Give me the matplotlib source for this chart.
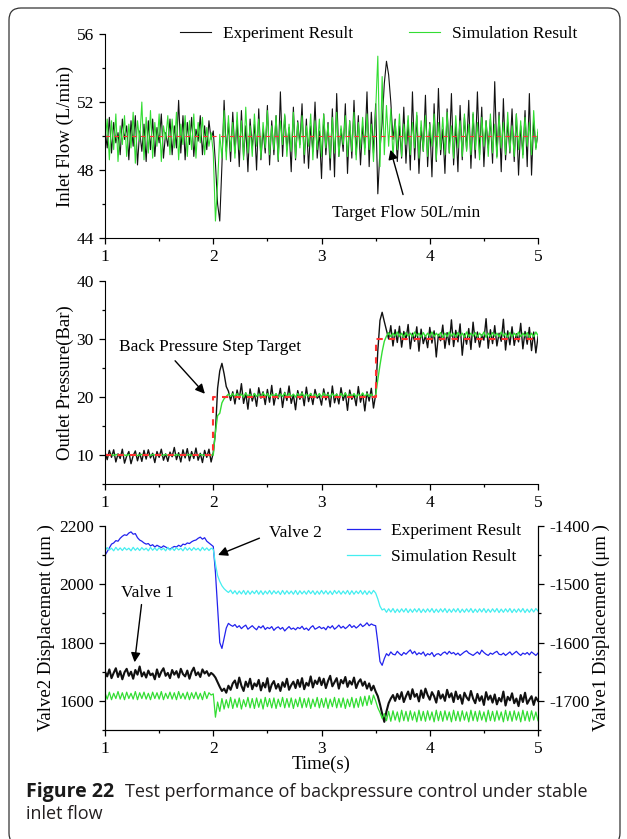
import numpy as np
import matplotlib
matplotlib.use("Agg")
import matplotlib.pyplot as plt
from matplotlib.patches import FancyBboxPatch
from matplotlib.transforms import IdentityTransform

plt.rcParams['font.family'] = ['Liberation Serif', 'DejaVu Serif']
plt.rcParams['axes.unicode_minus'] = False

# sampling: 1.00 s .. 5.00 s every 0.02 s
t0 = 1.0
dt = 0.02

# inlet flow (L/min)
flow_exp = [
    50.4, 49.3, 51.1, 49.0, 50.8, 49.6, 50.2, 48.9, 51.0, 49.8,
    50.6, 48.6, 50.9, 49.4, 51.2, 48.3, 50.3, 49.1, 50.7, 48.5,
    50.9, 49.2, 51.0, 48.8, 50.5, 49.6, 51.3, 48.7, 50.2, 49.4,
    51.0, 48.9, 50.6, 49.3, 52.1, 49.0, 51.2, 48.6, 50.8, 49.5,
    51.1, 48.8, 50.4, 49.7, 51.2, 48.9, 50.6, 49.2, 50.9, 49.8,
    50.3, 48.4, 46.0, 45.0, 48.3, 52.1, 49.1, 50.8, 48.5, 51.4,
    49.0, 50.9, 48.2, 51.5, 48.8, 50.6, 47.9, 51.0, 49.3, 50.7,
    48.0, 51.6, 48.6, 50.4, 49.0, 51.8, 48.3, 50.9, 48.9, 51.2,
    48.5, 52.6, 48.8, 51.2, 49.2, 50.5, 47.9, 51.7, 48.6, 50.9,
    49.5, 51.9, 48.4, 51.0, 48.1, 50.6, 49.1, 52.0, 48.7, 50.3,
    47.5, 51.3, 48.9, 50.8, 48.0, 51.6, 47.6, 52.5, 48.8, 50.4,
    49.1, 51.9, 47.8, 50.9, 48.7, 52.1, 48.9, 51.2, 48.3, 50.6,
    49.3, 52.6, 48.2, 51.4, 49.0, 51.9, 46.6, 49.2, 50.8, 53.1,
    54.4, 53.6, 52.0, 49.8, 51.0, 48.5, 50.6, 48.7, 51.7, 48.4,
    50.9, 48.0, 52.6, 48.6, 51.2, 47.8, 50.5, 49.1, 52.4, 48.2,
    50.8, 47.6, 51.9, 48.5, 52.8, 48.9, 50.4, 47.8, 51.6, 49.0,
    52.5, 48.3, 50.7, 47.9, 51.8, 48.6, 51.1, 49.2, 52.1, 48.1,
    51.3, 48.7, 52.6, 48.9, 51.7, 48.2, 50.9, 49.3, 51.0, 48.4,
    53.2, 48.8, 51.4, 47.9, 52.2, 48.6, 50.8, 49.0, 51.6, 48.5,
    51.3, 47.7, 50.6, 48.9, 51.5, 48.2, 52.5, 47.7, 50.9, 49.3,
    50.2,
]
flow_sim = [
    49.6, 51.0, 48.6, 50.9, 49.2, 51.3, 48.5, 50.6, 49.5, 51.2,
    48.8, 50.7, 49.3, 51.4, 48.4, 50.9, 49.7, 52.0, 48.6, 51.1,
    49.0, 51.5, 48.7, 50.8, 49.4, 51.3, 48.5, 50.6, 49.8, 51.2,
    48.9, 51.0, 49.3, 51.4, 48.6, 50.7, 49.5, 51.2, 48.8, 50.9,
    49.2, 51.3, 48.7, 50.8, 49.6, 51.1, 48.9, 50.5, 49.4, 50.2,
    49.0, 45.0, 47.2, 50.1, 48.7, 51.5, 48.6, 51.2, 49.1, 50.8,
    48.7, 51.4, 49.2, 50.9, 48.6, 51.7, 49.0, 50.6, 48.8, 51.3,
    49.4, 51.0, 48.7, 50.8, 49.3, 51.5, 48.9, 50.6, 49.2, 51.2,
    48.6, 50.9, 49.5, 51.3, 48.8, 50.7, 49.1, 51.4, 48.7, 50.8,
    49.3, 51.2, 48.9, 50.6, 49.4, 51.3, 48.6, 50.9, 49.2, 51.0,
    48.8, 51.3, 49.3, 50.7, 48.7, 51.1, 49.0, 51.4, 48.8, 50.6,
    49.5, 51.2, 48.8, 50.9, 49.1, 51.4, 48.6, 50.8, 49.3, 51.1,
    48.9, 51.3, 49.2, 50.7, 48.5, 51.5, 54.7, 48.2, 53.5, 48.9,
    51.8, 49.4, 51.6, 48.7, 50.9, 49.2, 51.3, 48.8, 50.7, 49.5,
    51.2, 48.9, 50.8, 49.3, 51.4, 48.7, 50.9, 49.1, 51.2, 48.8,
    50.7, 49.4, 51.3, 48.6, 50.8, 49.2, 51.1, 48.9, 51.4, 49.0,
    50.6, 48.7, 51.2, 49.3, 50.9, 48.8, 51.3, 49.1, 50.7, 48.9,
    51.4, 49.2, 50.8, 48.6, 51.1, 49.4, 50.9, 48.8, 51.3, 49.0,
    50.7, 48.7, 51.2, 49.3, 50.8, 48.9, 51.4, 49.1, 50.6, 48.8,
    51.3, 49.2, 50.9, 48.7, 51.1, 49.4, 50.8, 48.9, 51.5, 49.2,
    50.4,
]
target_flow_t = [1.0, 5.0]
target_flow = [50.0, 50.0]

# outlet pressure (bar)
pres_exp = [
    10.5, 9.2, 10.8, 9.6, 10.9, 8.8, 10.2, 9.4, 11.0, 8.6,
    9.8, 10.6, 8.5, 9.9, 10.7, 9.0, 10.4, 8.9, 10.8, 9.3,
    10.9, 9.5, 10.3, 8.7, 10.6, 9.6, 11.0, 9.1, 10.2, 8.9,
    10.5, 9.7, 11.3, 9.2, 10.4, 8.8, 10.9, 9.5, 11.1, 9.0,
    10.6, 9.4, 11.2, 9.1, 10.3, 8.7, 10.8, 9.6, 11.0, 8.8,
    10.4, 14.0, 21.5, 24.5, 25.8, 24.0, 21.8, 21.0, 19.4, 20.9,
    18.8, 21.2, 19.6, 22.3, 18.9, 20.7, 17.9, 21.4, 19.3, 20.6,
    18.4, 21.6, 19.8, 20.9, 18.7, 21.3, 19.1, 22.0, 18.6, 20.5,
    19.7, 21.5, 18.2, 20.8, 19.4, 21.9, 18.9, 20.4, 17.8, 21.1,
    19.6, 20.9, 18.5, 21.7, 19.2, 20.6, 18.7, 21.3, 19.8, 20.2,
    18.6, 21.4, 19.5, 20.8, 18.3, 21.9, 19.0, 20.5, 18.8, 21.6,
    19.4, 20.7, 17.7, 21.2, 19.6, 20.4, 18.5, 21.8, 19.1, 20.6,
    17.6, 20.9, 19.3, 21.5, 18.1, 20.4, 28.0, 33.2, 34.6, 33.0,
    31.5, 30.0, 32.3, 28.8, 31.6, 29.4, 32.2, 28.6, 31.3, 29.9,
    32.5, 28.3, 31.0, 29.6, 32.1, 27.9, 31.7, 29.2, 30.6, 28.5,
    32.0, 29.3, 31.4, 26.9, 30.8, 29.7, 32.4, 28.4, 31.1, 29.0,
    33.3, 28.7, 31.5, 29.5, 32.6, 27.2, 30.9, 29.1, 31.8, 28.2,
    32.9, 29.4, 31.2, 28.6, 30.7, 29.8, 33.5, 28.4, 31.6, 29.2,
    32.3, 28.8, 31.0, 29.6, 33.4, 28.1, 31.4, 29.0, 32.1, 28.9,
    30.9, 29.5, 32.7, 28.3, 31.3, 29.1, 32.0, 28.0, 31.2, 27.6,
    30.4,
]
pres_sim = [
    10.1, 9.9, 10.0, 10.1, 9.9, 10.1, 10.0, 9.9, 10.1, 10.0,
    9.9, 10.1, 10.0, 9.9, 10.1, 9.9, 10.0, 10.1, 9.9, 10.1,
    10.0, 9.9, 10.1, 10.0, 9.9, 10.1, 9.9, 10.0, 10.1, 9.9,
    10.1, 10.0, 9.9, 10.1, 10.0, 9.9, 10.1, 9.9, 10.0, 10.1,
    9.9, 10.1, 10.0, 9.9, 10.1, 10.0, 9.9, 10.1, 9.9, 10.0,
    10.0, 14.0, 16.8, 17.2, 19.0, 19.7, 20.1, 20.5, 20.1, 20.6,
    20.0, 20.6, 20.1, 20.5, 20.0, 20.7, 20.1, 20.5, 19.9, 20.6,
    20.1, 20.5, 20.0, 20.7, 20.1, 20.6, 20.0, 20.5, 20.1, 20.6,
    19.9, 20.5, 20.1, 20.7, 20.0, 20.6, 20.1, 20.5, 20.0, 20.6,
    20.1, 20.7, 20.0, 20.5, 20.1, 20.6, 19.9, 20.5, 20.1, 20.6,
    20.0, 20.7, 20.1, 20.5, 20.0, 20.6, 20.1, 20.5, 19.9, 20.6,
    20.1, 20.7, 20.0, 20.5, 20.1, 20.6, 20.0, 20.5, 20.1, 20.7,
    20.0, 20.6, 20.1, 20.5, 20.0, 20.3, 23.0, 25.5, 27.8, 29.6,
    30.5, 31.1, 30.4, 31.0, 30.5, 31.2, 30.4, 31.0, 30.3, 31.1,
    30.5, 31.0, 30.4, 31.2, 30.5, 31.0, 30.3, 31.1, 30.4, 31.0,
    30.5, 31.2, 30.4, 31.0, 30.5, 31.1, 30.3, 31.0, 30.4, 31.2,
    30.5, 31.0, 30.4, 31.1, 30.5, 31.0, 30.3, 31.2, 30.4, 31.0,
    30.5, 31.1, 30.4, 31.0, 30.5, 31.2, 30.3, 31.0, 30.4, 31.1,
    30.5, 31.0, 30.4, 31.2, 30.5, 31.0, 30.3, 31.1, 30.4, 31.0,
    30.5, 31.2, 30.4, 31.0, 30.5, 31.1, 30.3, 31.0, 30.4, 31.2,
    30.6,
]
step_t = [1.0, 2.0, 3.5, 5.0]
step_target = [10.0, 20.0, 30.0, 30.0]

# valve 2 displacement (um), left axis
v2_exp = [
    2100, 2112, 2125, 2138, 2142, 2150, 2148, 2158, 2165, 2170,
    2168, 2176, 2180, 2172, 2174, 2160, 2152, 2148, 2142, 2138,
    2140, 2132, 2136, 2128, 2134, 2130, 2126, 2132, 2128, 2124,
    2120, 2126, 2130, 2128, 2134, 2130, 2138, 2136, 2142, 2140,
    2146, 2150, 2152, 2158, 2162, 2155, 2160, 2148, 2142, 2136,
    2130, 2040, 1920, 1800, 1780, 1815, 1850, 1866, 1860, 1856,
    1862, 1852, 1858, 1848, 1855, 1860, 1846, 1852, 1858, 1850,
    1844, 1856, 1850, 1858, 1845, 1852, 1848, 1855, 1842, 1850,
    1854, 1846, 1852, 1840, 1848, 1855, 1846, 1850, 1844, 1852,
    1848, 1856, 1845, 1850, 1842, 1852, 1858, 1846, 1850, 1855,
    1848, 1852, 1844, 1856, 1850, 1858, 1846, 1852, 1860, 1850,
    1856, 1848, 1854, 1862, 1852, 1858, 1850, 1856, 1864, 1855,
    1860, 1868, 1858, 1864, 1860, 1858, 1800, 1735, 1722, 1745,
    1762, 1755, 1768, 1760, 1758, 1770, 1762, 1756, 1766, 1760,
    1768, 1775, 1762, 1770, 1758, 1765, 1760, 1768, 1754, 1762,
    1758, 1766, 1752, 1760, 1762, 1756, 1764, 1768, 1760, 1770,
    1762, 1766, 1758, 1764, 1756, 1762, 1768, 1772, 1764, 1760,
    1756, 1762, 1768, 1760, 1774, 1766, 1760, 1756, 1764, 1760,
    1766, 1770, 1760, 1758, 1764, 1756, 1762, 1768, 1758, 1764,
    1770, 1762, 1756, 1764, 1760, 1766, 1758, 1768, 1762, 1756,
    1764,
]
v2_sim = [
    2116, 2126, 2118, 2124, 2115, 2127, 2117, 2125, 2116, 2126,
    2118, 2124, 2115, 2127, 2117, 2125, 2116, 2126, 2118, 2124,
    2115, 2127, 2117, 2125, 2116, 2126, 2118, 2124, 2115, 2127,
    2117, 2125, 2116, 2126, 2118, 2124, 2115, 2127, 2117, 2125,
    2116, 2126, 2118, 2124, 2115, 2127, 2117, 2125, 2116, 2124,
    2120, 2070, 2030, 2010, 1995, 1985, 1978, 1972, 1980, 1968,
    1978, 1966, 1977, 1967, 1979, 1965, 1978, 1966, 1977, 1968,
    1979, 1966, 1978, 1965, 1977, 1967, 1979, 1966, 1978, 1968,
    1977, 1965, 1979, 1966, 1978, 1967, 1977, 1966, 1979, 1965,
    1978, 1967, 1977, 1966, 1979, 1968, 1978, 1965, 1977, 1966,
    1979, 1967, 1978, 1966, 1977, 1965, 1979, 1968, 1978, 1966,
    1977, 1967, 1979, 1965, 1978, 1966, 1977, 1968, 1979, 1966,
    1978, 1965, 1977, 1967, 1979, 1970, 1950, 1925, 1912, 1916,
    1904, 1916, 1905, 1917, 1903, 1915, 1904, 1916, 1905, 1917,
    1903, 1915, 1904, 1916, 1905, 1917, 1903, 1915, 1904, 1916,
    1905, 1917, 1903, 1915, 1904, 1916, 1905, 1917, 1903, 1915,
    1904, 1916, 1905, 1917, 1903, 1915, 1904, 1916, 1905, 1917,
    1903, 1915, 1904, 1916, 1905, 1917, 1903, 1915, 1904, 1916,
    1905, 1917, 1903, 1915, 1904, 1916, 1905, 1917, 1903, 1915,
    1904, 1916, 1905, 1917, 1903, 1915, 1904, 1916, 1905, 1917,
    1908,
]

# valve 1 displacement (um), right axis
v1_exp = [
    -1650, -1658, -1646, -1661, -1652, -1644, -1659, -1649, -1663, -1651,
    -1645, -1657, -1650, -1662, -1647, -1655, -1641, -1658, -1651, -1660,
    -1648, -1656, -1653, -1663, -1646, -1659, -1650, -1644, -1657, -1652,
    -1661, -1647, -1655, -1649, -1660, -1645, -1654, -1658, -1648, -1662,
    -1650, -1643, -1656, -1651, -1659, -1646, -1653, -1649, -1657, -1652,
    -1655, -1660, -1668, -1676, -1683, -1679, -1686, -1674, -1681, -1670,
    -1665, -1678, -1660, -1674, -1683, -1667, -1676, -1662, -1680, -1670,
    -1675, -1664, -1682, -1669, -1677, -1661, -1684, -1672, -1666, -1679,
    -1671, -1683, -1668, -1676, -1662, -1681, -1673, -1667, -1678, -1664,
    -1676, -1661, -1680, -1669, -1674, -1658, -1677, -1665, -1671, -1660,
    -1673, -1662, -1678, -1666, -1657, -1675, -1668, -1661, -1679, -1664,
    -1670, -1659, -1676, -1666, -1672, -1660, -1678, -1668, -1663, -1674,
    -1667, -1679, -1670, -1682, -1674, -1684, -1692, -1706, -1722, -1736,
    -1718, -1704, -1696, -1690, -1700, -1688, -1697, -1685, -1702, -1692,
    -1684, -1697, -1680, -1693, -1688, -1701, -1682, -1695, -1679, -1690,
    -1698, -1685, -1692, -1703, -1683, -1696, -1689, -1700, -1681, -1694,
    -1687, -1702, -1684, -1697, -1690, -1705, -1686, -1694, -1699, -1683,
    -1696, -1704, -1688, -1700, -1692, -1707, -1685, -1698, -1691, -1703,
    -1689, -1706, -1695, -1701, -1684, -1708, -1693, -1699, -1687, -1704,
    -1696, -1709, -1690, -1702, -1686, -1705, -1698, -1692, -1707, -1694,
    -1700,
]
v1_sim = [
    -1686, -1697, -1685, -1698, -1687, -1696, -1684, -1697, -1686, -1698,
    -1685, -1696, -1687, -1697, -1684, -1698, -1686, -1696, -1685, -1697,
    -1687, -1698, -1685, -1696, -1686, -1697, -1684, -1698, -1687, -1696,
    -1685, -1697, -1686, -1698, -1684, -1696, -1687, -1697, -1685, -1698,
    -1686, -1696, -1685, -1697, -1687, -1698, -1684, -1696, -1686, -1690,
    -1688, -1728, -1702, -1718, -1696, -1714, -1698, -1712, -1694, -1713,
    -1697, -1711, -1695, -1714, -1698, -1710, -1694, -1712, -1696, -1713,
    -1695, -1711, -1697, -1714, -1694, -1710, -1696, -1712, -1695, -1713,
    -1697, -1710, -1694, -1712, -1696, -1711, -1695, -1713, -1697, -1710,
    -1694, -1712, -1696, -1711, -1695, -1713, -1697, -1710, -1694, -1712,
    -1696, -1711, -1695, -1713, -1697, -1710, -1694, -1712, -1696, -1711,
    -1695, -1713, -1697, -1710, -1694, -1712, -1696, -1711, -1693, -1709,
    -1692, -1708, -1691, -1706, -1690, -1700, -1712, -1720, -1730, -1722,
    -1734, -1718, -1735, -1717, -1733, -1719, -1736, -1716, -1734, -1718,
    -1735, -1717, -1733, -1719, -1736, -1716, -1734, -1718, -1735, -1717,
    -1733, -1719, -1736, -1716, -1734, -1718, -1735, -1717, -1733, -1719,
    -1736, -1716, -1734, -1718, -1735, -1717, -1733, -1719, -1736, -1716,
    -1734, -1718, -1735, -1717, -1733, -1719, -1736, -1716, -1734, -1718,
    -1735, -1717, -1733, -1719, -1736, -1716, -1734, -1718, -1735, -1717,
    -1733, -1719, -1736, -1716, -1734, -1718, -1735, -1717, -1733, -1719,
    -1734,
]

t = t0 + dt * np.arange(len(flow_exp))

BLACK = '#111111'
GREEN = '#33dd33'
RED = '#ff3030'
BLUE = '#2222ee'
CYAN = '#44eef0'
FS = 12.5
LFS = 13.5

fig = plt.figure(figsize=(6.27, 8.39), dpi=100)

# thin rounded frame round the whole figure, in pixels
frame = FancyBboxPatch((9, -6), 611, 837, boxstyle="round,pad=0,rounding_size=12",
                       transform=IdentityTransform(), fill=False,
                       edgecolor='#333333', linewidth=0.9)
fig.patches.append(frame)


def style_axes(ax, right=False):
    ax.spines['top'].set_visible(False)
    ax.spines['right'].set_visible(right)
    ax.set_xlim(1, 5)
    ax.set_xticks([1, 2, 3, 4, 5])
    ax.set_xticks([1.5, 2.5, 3.5, 4.5], minor=True)
    ax.tick_params(which='both', direction='out', labelsize=FS, width=0.9)
    ax.tick_params(which='major', length=4.5)
    ax.tick_params(which='minor', length=2.5)
    ax.patch.set_alpha(0)


# --- inlet flow ---
ax1 = fig.add_axes([0.1675, 0.7163, 0.6906, 0.2431])
ax1.plot(t, flow_exp, color=BLACK, lw=0.8, label='Experiment Result')
ax1.plot(t, flow_sim, color=GREEN, lw=0.8, label='Simulation Result')
ax1.plot(target_flow_t, target_flow, color=RED, lw=0.8, ls=(0, (4, 4)))
style_axes(ax1)
ax1.set_ylim(44, 56)
ax1.set_yticks([44, 48, 52, 56])
ax1.set_yticks([46, 50, 54], minor=True)
ax1.set_ylabel('Inlet Flow (L/min)', fontsize=LFS, labelpad=2)
ax1.legend(loc='center left', bbox_to_anchor=(0.173, 1.0), ncol=2, frameon=False,
           fontsize=FS, handlelength=1.8, handletextpad=0.7, columnspacing=3.2,
           borderpad=0, borderaxespad=0)
ax1.annotate('', xy=(3.63, 49.35), xytext=(3.76, 46.4),
             arrowprops=dict(arrowstyle='-|>', color='black', lw=1.0, mutation_scale=14))
ax1.text(3.78, 45.5, 'Target Flow 50L/min', ha='center', va='center', fontsize=FS)

# --- outlet pressure ---
ax2 = fig.add_axes([0.1675, 0.4231, 0.6906, 0.2420])
ax2.plot(t, pres_exp, color=BLACK, lw=1.0)
ax2.plot(t, pres_sim, color=GREEN, lw=1.0)
ax2.plot(step_t, step_target, color=RED, lw=1.5, ls=(0, (3, 3)), drawstyle='steps-post')
style_axes(ax2)
ax2.set_ylim(5, 40)
ax2.set_yticks([10, 20, 30, 40])
ax2.set_yticks([5, 15, 25, 35], minor=True)
ax2.set_ylabel('Outlet Pressure(Bar)', fontsize=LFS, labelpad=2)
ax2.annotate('', xy=(1.94, 20.2), xytext=(1.63, 26.6),
             arrowprops=dict(arrowstyle='-|>', color='black', lw=1.0, mutation_scale=14))
ax2.text(1.97, 28.7, 'Back Pressure Step Target', ha='center', va='center', fontsize=FS)

# --- valve displacements ---
ax3 = fig.add_axes([0.1675, 0.1299, 0.6906, 0.2431])
ax3.plot(t, v2_exp, color=BLUE, lw=0.9, label='Experiment Result')
ax3.plot(t, v2_sim, color=CYAN, lw=0.9, label='Simulation Result')
style_axes(ax3, right=True)
ax3.set_ylim(1500, 2200)
ax3.set_yticks([1600, 1800, 2000, 2200])
ax3.set_yticks([1500, 1700, 1900, 2100], minor=True)
ax3.set_ylabel('Valve2 Displacement (μm )', fontsize=LFS, labelpad=3)
ax3.set_xlabel('Time(s)', fontsize=LFS, labelpad=-1)
ax3.legend(loc='center left', bbox_to_anchor=(0.559, 0.912), frameon=False,
           fontsize=FS, handlelength=1.9, handletextpad=0.65, labelspacing=0.55,
           borderpad=0, borderaxespad=0)
ax3.annotate('', xy=(2.02, 2097), xytext=(2.45, 2162),
             arrowprops=dict(arrowstyle='-|>', color='black', lw=1.0, mutation_scale=14))
ax3.text(2.76, 2176, 'Valve 2', ha='center', va='center', fontsize=FS)
ax3.annotate('', xy=(1.27, 1723), xytext=(1.34, 1940),
             arrowprops=dict(arrowstyle='-|>', color='black', lw=1.0, mutation_scale=14))
ax3.text(1.39, 1970, 'Valve 1', ha='center', va='center', fontsize=FS)

ax4 = ax3.twinx()
ax4.plot(t, v1_exp, color=BLACK, lw=1.5)
ax4.plot(t, v1_sim, color=GREEN, lw=0.9)
ax4.spines['top'].set_visible(False)
ax4.set_ylim(-1750, -1400)
ax4.set_yticks([-1700, -1600, -1500, -1400])
ax4.set_yticks([-1750, -1650, -1550, -1450], minor=True)
ax4.tick_params(which='both', direction='out', labelsize=FS, width=0.9)
ax4.tick_params(which='major', length=4.5)
ax4.tick_params(which='minor', length=2.5)
ax4.set_ylabel('Valve1 Displacement (μm )', fontsize=LFS, labelpad=2)

# caption
cap_font = ['Open Sans', 'DejaVu Sans']
c1 = fig.text(0.0415, 0.0555, 'Figure 22', fontsize=14, fontweight='bold',
              family=cap_font, va='center', color='#1a1a1a')
fig.canvas.draw()
bb = c1.get_window_extent()
fig.text((bb.x1 + 11) / fig.bbox.width, 0.0555,
         'Test performance of backpressure control under stable',
         fontsize=13, family=cap_font, va='center', color='#231f20')
fig.text(0.0415, 0.030, 'inlet flow', fontsize=13, family=cap_font,
         va='center', color='#231f20')

fig.savefig('out.png', dpi=100)
